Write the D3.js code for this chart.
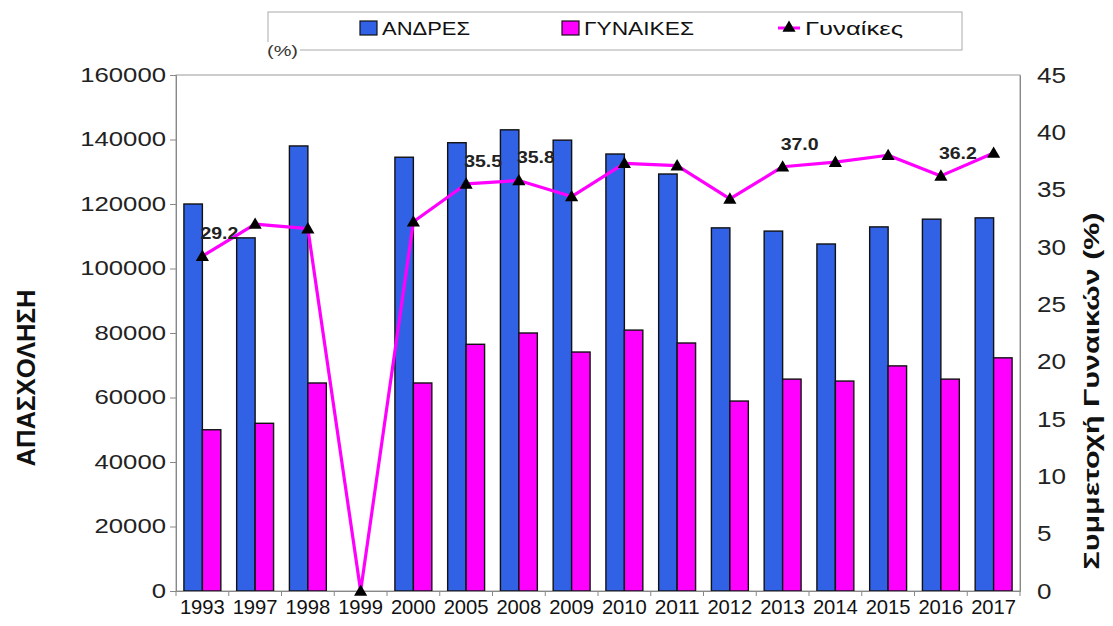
<!DOCTYPE html>
<html>
<head>
<meta charset="utf-8">
<script src="https://cdn.jsdelivr.net/npm/d3@7"></script>
<style>
  html, body { margin: 0; padding: 0; background: #fff; }
  svg { display: block; font-family: "Liberation Sans", Arial, sans-serif; }
</style>
</head>
<body>
<svg id="chart" width="1113" height="626"></svg>
<script>
// ---- data ----
const years = ["1993","1997","1998","1999","2000","2005","2008","2009","2010","2011","2012","2013","2014","2015","2016","2017"];
const men   = [120000,109500,138000,0,134500,139000,143000,139800,135500,129300,112600,111600,107600,112900,115300,115700];
const women = [50000,52000,64500,0,64500,76500,80000,74100,80900,76900,58900,65700,65100,69800,65700,72300];
const womenPct = [29.2,32.0,31.6,0,32.2,35.5,35.8,34.4,37.3,37.1,34.2,37.0,37.4,38.0,36.2,38.2];
const labelledYears = ["1993","2005","2008","2013","2016"];
const leftTicks = [0,20000,40000,60000,80000,100000,120000,140000,160000];
const rightTicks = [0,5,10,15,20,25,30,35,40,45];
const seriesNames = ["ΑΝΔΡΕΣ","ΓΥΝΑΙΚΕΣ","Γυναίκες"];

const BLUE = "#3162e6", PINK = "#ff00ff";
const svg = d3.select("#chart");
const L = 176, R = 1020, T = 75, B = 591;

const x = d3.scaleBand().domain(years).range([L, R]).paddingInner(0.3).paddingOuter(0.15);
const xs = d3.scaleBand().domain(["m","w"]).range([0, x.bandwidth()]);
const yL = d3.scaleLinear().domain([0,160000]).range([B, T]);
const yR = d3.scaleLinear().domain([0,45]).range([B, T]);

// frame
svg.append("rect").attr("x", L).attr("y", T).attr("width", R-L).attr("height", B-T)
  .attr("fill", "none").attr("stroke", "#999").attr("stroke-width", 1);

// bars
const g = svg.append("g");
const rows = years.map((yr,i)=>({yr, m: men[i], w: women[i]}));
g.selectAll("rect.m").data(rows.filter(d=>d.m>0)).join("rect").attr("class","m")
  .attr("x", d=>x(d.yr)+xs("m")).attr("width", xs.bandwidth())
  .attr("y", d=>yL(d.m)).attr("height", d=>yL(0)-yL(d.m))
  .attr("fill", BLUE).attr("stroke", "#111").attr("stroke-width", 1.4);
g.selectAll("rect.w").data(rows.filter(d=>d.w>0)).join("rect").attr("class","w")
  .attr("x", d=>x(d.yr)+xs("w")).attr("width", xs.bandwidth())
  .attr("y", d=>yL(d.w)).attr("height", d=>yL(0)-yL(d.w))
  .attr("fill", PINK).attr("stroke", "#111").attr("stroke-width", 1.4);

// left axis
const axL = svg.append("g").attr("transform", `translate(${L},0)`)
  .call(d3.axisLeft(yL).tickValues(leftTicks).tickFormat(d3.format("d")).tickSize(6).tickPadding(4));
axL.select(".domain").attr("stroke", "#888");
axL.selectAll(".tick line").attr("stroke", "#888");
axL.selectAll(".tick text").attr("font-size", 20).attr("fill", "#222")
  .attr("font-family", "Liberation Sans, Arial, sans-serif")
  .each(function(){ const t = d3.select(this); t.attr("textLength", t.text().length*14.3).attr("lengthAdjust","spacingAndGlyphs"); });

// right axis
const axR = svg.append("g").attr("transform", `translate(${R},0)`)
  .call(d3.axisRight(yR).tickValues(rightTicks).tickSize(0).tickPadding(17));
axR.select(".domain").attr("stroke", "#888");
axR.selectAll(".tick text").attr("font-size", 22).attr("fill", "#222")
  .attr("font-family", "Liberation Sans, Arial, sans-serif")
  .each(function(){ const t = d3.select(this); t.attr("textLength", t.text().length*14.5).attr("lengthAdjust","spacingAndGlyphs"); });

// bottom axis
const axB = svg.append("g").attr("transform", `translate(0,${B})`)
  .call(d3.axisBottom(x).tickSize(0).tickPadding(8));
axB.select(".domain").attr("stroke", "#888");
axB.selectAll(".tick text").attr("font-size", 21).attr("fill", "#111")
  .attr("font-family", "Liberation Sans, Arial, sans-serif")
  .attr("textLength", 45).attr("lengthAdjust","spacingAndGlyphs");
// boundary tick marks between categories
const bounds = d3.range(years.length+1).map(i => L + i*x.step());
svg.append("g").selectAll("line").data(bounds).join("line")
  .attr("x1", d=>d).attr("x2", d=>d).attr("y1", B).attr("y2", B+5)
  .attr("stroke", "#888");

// line series
const pts = years.map((yr,i)=>({yr, v: womenPct[i], cx: x(yr)+x.bandwidth()/2}));
svg.append("path").datum(pts)
  .attr("d", d3.line().x(d=>d.cx).y(d=>yR(d.v)))
  .attr("fill","none").attr("stroke", PINK).attr("stroke-width", 3.2).attr("stroke-linejoin","round");
const tri = d3.symbol().type(d3.symbolTriangle).size(75);
svg.append("g").selectAll("path").data(pts).join("path")
  .attr("transform", d=>`translate(${d.cx},${yR(d.v)+1})`).attr("d", tri).attr("fill", "#000");

// data labels
svg.append("g").selectAll("text").data(pts.filter(d=>labelledYears.includes(d.yr))).join("text")
  .attr("x", d=>d.cx+17).attr("y", d=>yR(d.v)-17).attr("text-anchor","middle")
  .attr("font-size", 17).attr("font-weight","bold").attr("fill","#222")
  .attr("textLength", 38).attr("lengthAdjust","spacingAndGlyphs")
  .text(d=>d.v.toFixed(1));

// axis titles
svg.append("text").attr("transform", "translate(35,378) rotate(-90)").attr("text-anchor","middle")
  .attr("font-size", 25).attr("font-weight","bold").attr("fill","#111")
  .attr("textLength", 177).attr("lengthAdjust","spacingAndGlyphs").text("ΑΠΑΣΧΟΛΗΣΗ");
svg.append("text").attr("transform", "translate(1099,391) rotate(-90)").attr("text-anchor","middle")
  .attr("font-size", 22).attr("font-weight","bold").attr("fill","#111")
  .attr("textLength", 357).attr("lengthAdjust","spacingAndGlyphs").text("Συμμετοχή Γυναικών (%)");

// legend
const lg = svg.append("g");
lg.append("rect").attr("x", 268).attr("y", 12).attr("width", 694).attr("height", 38)
  .attr("fill", "#fff").attr("stroke", "#aaa").attr("stroke-width", 1);
lg.append("rect").attr("x", 264).attr("y", 42).attr("width", 36).attr("height", 18).attr("fill", "#fff");
lg.append("text").attr("x", 267).attr("y", 56).attr("font-size", 14).attr("fill","#333")
  .attr("textLength", 31).attr("lengthAdjust","spacingAndGlyphs").text("(%)");
const items = [
  {name: seriesNames[0], kind: "bar", color: BLUE, x: 360, tl: 88},
  {name: seriesNames[1], kind: "bar", color: PINK, x: 562, tl: 110},
  {name: seriesNames[2], kind: "line", color: PINK, x: 778, tl: 98}
];
items.forEach(it => {
  if (it.kind === "bar") {
    lg.append("rect").attr("x", it.x).attr("y", 21).attr("width", 17).attr("height", 14)
      .attr("fill", it.color).attr("stroke", "#111").attr("stroke-width", 1.2);
    lg.append("text").attr("x", it.x+22).attr("y", 35).attr("font-size", 18).attr("fill","#111")
      .attr("textLength", it.tl).attr("lengthAdjust","spacingAndGlyphs").text(it.name);
  } else {
    lg.append("line").attr("x1", it.x).attr("x2", it.x+22).attr("y1", 28).attr("y2", 28)
      .attr("stroke", it.color).attr("stroke-width", 3);
    lg.append("path").attr("transform", `translate(${it.x+11},28)`).attr("d", tri).attr("fill","#000");
    lg.append("text").attr("x", it.x+27).attr("y", 35).attr("font-size", 18).attr("fill","#111")
      .attr("textLength", it.tl).attr("lengthAdjust","spacingAndGlyphs").text(it.name);
  }
});
</script>
</body>
</html>
